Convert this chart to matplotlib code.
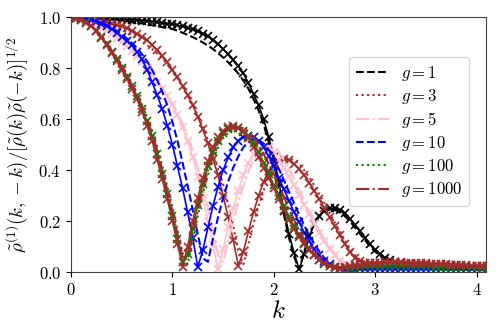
import numpy as np
import matplotlib
matplotlib.use('Agg')
import matplotlib.pyplot as plt

plt.rcParams['font.family'] = 'serif'
plt.rcParams['font.serif'] = ['cmr10']
plt.rcParams['mathtext.fontset'] = 'cm'
plt.rcParams['axes.formatter.use_mathtext'] = True

# k grid shared by all curves (step 0.05)
k = np.linspace(0.0, 4.1, 83)

g_labels = ['$g=1$', '$g=3$', '$g=5$', '$g=10$', '$g=100$', '$g=1000$']
colors = ['black', 'brown', 'pink', 'blue', 'green', 'brown']
styles = ['--', ':', '-.', '--', ':', '-.']

# ---- data points (x markers) ----
pts_g1 = [1.0, 1.0, 1.0, 1.0, 0.999, 0.998, 0.997, 0.996, 0.995, 0.994,
          0.993, 0.992, 0.991, 0.990, 0.988, 0.986, 0.984, 0.981, 0.978, 0.976,
          0.974, 0.970, 0.965, 0.960, 0.953, 0.946, 0.937, 0.926, 0.912, 0.895,
          0.876, 0.856, 0.834, 0.810, 0.780, 0.742, 0.700, 0.655, 0.600, 0.530,
          0.450, 0.350, 0.240, 0.150, 0.075, 0.010, 0.070, 0.140, 0.190, 0.220,
          0.240, 0.250, 0.252, 0.245, 0.230, 0.210, 0.185, 0.160, 0.135, 0.110,
          0.088, 0.070, 0.056, 0.046, 0.040, 0.035, 0.032, 0.030, 0.028, 0.027,
          0.026, 0.025, 0.024, 0.023, 0.023, 0.022, 0.022, 0.021, 0.021, 0.020,
          0.020, 0.020, 0.019]
pts_g3 = [1.0, 0.999, 0.998, 0.996, 0.993, 0.990, 0.986, 0.981, 0.976, 0.971,
          0.965, 0.957, 0.948, 0.937, 0.925, 0.910, 0.893, 0.873, 0.850, 0.825,
          0.795, 0.765, 0.730, 0.695, 0.655, 0.610, 0.560, 0.505, 0.445, 0.380,
          0.300, 0.215, 0.125, 0.025, 0.080, 0.160, 0.235, 0.300, 0.355, 0.395,
          0.425, 0.440, 0.445, 0.440, 0.425, 0.405, 0.380, 0.350, 0.320, 0.285,
          0.250, 0.215, 0.180, 0.145, 0.110, 0.080, 0.055, 0.042, 0.037, 0.035,
          0.035, 0.035, 0.035, 0.034, 0.034, 0.033, 0.033, 0.032, 0.031, 0.031,
          0.030, 0.029, 0.029, 0.028, 0.027, 0.027, 0.026, 0.025, 0.025, 0.024,
          0.024, 0.023, 0.023]
pts_g5 = [1.0, 0.999, 0.996, 0.991, 0.984, 0.975, 0.964, 0.951, 0.936, 0.919,
          0.905, 0.888, 0.868, 0.847, 0.824, 0.800, 0.775, 0.748, 0.720, 0.690,
          0.655, 0.615, 0.570, 0.515, 0.450, 0.375, 0.290, 0.200, 0.105, 0.010,
          0.090, 0.175, 0.250, 0.320, 0.380, 0.430, 0.465, 0.485, 0.495, 0.490,
          0.470, 0.440, 0.410, 0.375, 0.340, 0.302, 0.265, 0.228, 0.190, 0.155,
          0.120, 0.090, 0.065, 0.045, 0.032, 0.025, 0.023, 0.023, 0.024, 0.025,
          0.027, 0.027, 0.027, 0.027, 0.026, 0.026, 0.026, 0.025, 0.025, 0.024,
          0.024, 0.023, 0.023, 0.022, 0.022, 0.021, 0.021, 0.020, 0.020, 0.020,
          0.019, 0.019, 0.019]
pts_g10 = [1.0, 0.999, 0.997, 0.994, 0.990, 0.984, 0.976, 0.966, 0.954, 0.940,
           0.925, 0.908, 0.890, 0.866, 0.835, 0.795, 0.745, 0.695, 0.640, 0.575,
           0.500, 0.415, 0.330, 0.235, 0.135, 0.020, 0.085, 0.175, 0.260, 0.335,
           0.400, 0.450, 0.490, 0.515, 0.530, 0.535, 0.530, 0.515, 0.490, 0.455,
           0.415, 0.370, 0.325, 0.280, 0.235, 0.195, 0.155, 0.120, 0.090, 0.065,
           0.045, 0.030, 0.020, 0.012, 0.008, 0.007, 0.008, 0.010, 0.011, 0.012,
           0.013, 0.013, 0.013, 0.013, 0.013, 0.013, 0.013, 0.013, 0.012, 0.012,
           0.012, 0.012, 0.012, 0.012, 0.011, 0.011, 0.011, 0.011, 0.011, 0.011,
           0.011, 0.010, 0.010]
pts_g100 = [1.0, 0.998, 0.991, 0.981, 0.967, 0.948, 0.924, 0.896, 0.866, 0.836,
            0.802, 0.768, 0.730, 0.690, 0.642, 0.592, 0.535, 0.462, 0.385, 0.305,
            0.220, 0.130, 0.040, 0.070, 0.170, 0.265, 0.345, 0.415, 0.470, 0.515,
            0.545, 0.560, 0.567, 0.565, 0.555, 0.535, 0.505, 0.470, 0.430, 0.385,
            0.340, 0.300, 0.258, 0.218, 0.180, 0.147, 0.115, 0.088, 0.065, 0.046,
            0.032, 0.022, 0.016, 0.014, 0.015, 0.017, 0.019, 0.021, 0.022, 0.023,
            0.024, 0.025, 0.025, 0.025, 0.025, 0.025, 0.024, 0.024, 0.023, 0.023,
            0.022, 0.022, 0.021, 0.021, 0.020, 0.020, 0.019, 0.019, 0.018, 0.018,
            0.018, 0.017, 0.017]
pts_g1000 = [1.0, 0.998, 0.990, 0.980, 0.965, 0.945, 0.920, 0.890, 0.860, 0.830,
             0.795, 0.760, 0.720, 0.680, 0.630, 0.575, 0.515, 0.440, 0.365, 0.285,
             0.200, 0.110, 0.020, 0.100, 0.200, 0.290, 0.370, 0.435, 0.490, 0.530,
             0.555, 0.568, 0.572, 0.565, 0.550, 0.525, 0.490, 0.450, 0.410, 0.370,
             0.330, 0.285, 0.245, 0.205, 0.170, 0.138, 0.110, 0.085, 0.065, 0.048,
             0.034, 0.024, 0.018, 0.017, 0.019, 0.022, 0.026, 0.029, 0.032, 0.034,
             0.036, 0.037, 0.038, 0.038, 0.038, 0.038, 0.037, 0.037, 0.036, 0.035,
             0.034, 0.033, 0.032, 0.031, 0.030, 0.029, 0.028, 0.027, 0.026, 0.025,
             0.024, 0.023, 0.022]

# ---- theory curves (lines) ----
line_g1 = [1.0, 1.0, 0.999, 0.999, 0.998, 0.997, 0.996, 0.994, 0.992, 0.990,
           0.988, 0.986, 0.983, 0.980, 0.977, 0.973, 0.969, 0.966, 0.962, 0.958,
           0.955, 0.948, 0.940, 0.932, 0.923, 0.913, 0.902, 0.890, 0.876, 0.860,
           0.843, 0.824, 0.803, 0.780, 0.752, 0.720, 0.680, 0.635, 0.580, 0.510,
           0.430, 0.330, 0.225, 0.135, 0.060, 0.010, 0.080, 0.145, 0.190, 0.220,
           0.238, 0.245, 0.244, 0.235, 0.220, 0.200, 0.175, 0.150, 0.125, 0.100,
           0.080, 0.063, 0.050, 0.040, 0.034, 0.030, 0.027, 0.025, 0.024, 0.023,
           0.022, 0.021, 0.020, 0.020, 0.019, 0.019, 0.018, 0.018, 0.017, 0.017,
           0.017, 0.016, 0.016]
line_g3 = [1.0, 0.999, 0.998, 0.995, 0.991, 0.987, 0.982, 0.976, 0.969, 0.961,
           0.952, 0.942, 0.931, 0.919, 0.906, 0.892, 0.876, 0.858, 0.838, 0.816,
           0.790, 0.762, 0.730, 0.695, 0.657, 0.615, 0.570, 0.520, 0.465, 0.405,
           0.345, 0.265, 0.180, 0.080, 0.030, 0.110, 0.190, 0.260, 0.320, 0.370,
           0.400, 0.425, 0.440, 0.445, 0.440, 0.425, 0.400, 0.372, 0.340, 0.305,
           0.270, 0.233, 0.196, 0.160, 0.125, 0.093, 0.066, 0.048, 0.040, 0.036,
           0.035, 0.035, 0.035, 0.034, 0.034, 0.033, 0.033, 0.032, 0.031, 0.031,
           0.030, 0.029, 0.029, 0.028, 0.027, 0.027, 0.026, 0.025, 0.025, 0.024,
           0.024, 0.023, 0.023]
line_g5 = [1.0, 0.999, 0.997, 0.993, 0.987, 0.979, 0.969, 0.957, 0.943, 0.927,
           0.910, 0.891, 0.871, 0.850, 0.828, 0.805, 0.780, 0.754, 0.726, 0.696,
           0.663, 0.625, 0.582, 0.533, 0.477, 0.410, 0.335, 0.250, 0.160, 0.065,
           0.040, 0.120, 0.200, 0.275, 0.340, 0.395, 0.440, 0.470, 0.488, 0.495,
           0.490, 0.472, 0.440, 0.405, 0.365, 0.322, 0.280, 0.238, 0.200, 0.163,
           0.130, 0.100, 0.074, 0.053, 0.038, 0.028, 0.023, 0.022, 0.023, 0.025,
           0.027, 0.027, 0.027, 0.027, 0.026, 0.026, 0.026, 0.025, 0.025, 0.024,
           0.024, 0.023, 0.023, 0.022, 0.022, 0.021, 0.021, 0.020, 0.020, 0.020,
           0.019, 0.019, 0.019]
line_g10 = [1.0, 0.999, 0.998, 0.995, 0.991, 0.986, 0.979, 0.970, 0.960, 0.948,
            0.934, 0.918, 0.900, 0.880, 0.856, 0.828, 0.794, 0.754, 0.708, 0.655,
            0.590, 0.515, 0.430, 0.340, 0.245, 0.150, 0.055, 0.040, 0.130, 0.215,
            0.290, 0.355, 0.410, 0.455, 0.490, 0.510, 0.520, 0.518, 0.505, 0.480,
            0.445, 0.405, 0.360, 0.315, 0.270, 0.225, 0.183, 0.145, 0.110, 0.080,
            0.055, 0.036, 0.022, 0.013, 0.008, 0.006, 0.007, 0.008, 0.010, 0.011,
            0.013, 0.013, 0.013, 0.013, 0.013, 0.013, 0.013, 0.013, 0.012, 0.012,
            0.012, 0.012, 0.012, 0.012, 0.011, 0.011, 0.011, 0.011, 0.011, 0.011,
            0.011, 0.010, 0.010]
line_g100 = [1.0, 0.998, 0.992, 0.983, 0.970, 0.952, 0.930, 0.904, 0.875, 0.845,
             0.812, 0.778, 0.742, 0.703, 0.658, 0.610, 0.555, 0.490, 0.415, 0.335,
             0.255, 0.165, 0.075, 0.030, 0.120, 0.220, 0.305, 0.380, 0.440, 0.490,
             0.525, 0.548, 0.560, 0.565, 0.560, 0.548, 0.525, 0.495, 0.460, 0.420,
             0.380, 0.335, 0.290, 0.245, 0.200, 0.160, 0.125, 0.095, 0.070, 0.050,
             0.035, 0.024, 0.017, 0.014, 0.014, 0.016, 0.018, 0.020, 0.021, 0.022,
             0.024, 0.025, 0.025, 0.025, 0.025, 0.025, 0.024, 0.024, 0.023, 0.023,
             0.022, 0.022, 0.021, 0.021, 0.020, 0.020, 0.019, 0.019, 0.018, 0.018,
             0.018, 0.017, 0.017]
line_g1000 = [1.0, 0.998, 0.991, 0.982, 0.968, 0.950, 0.927, 0.900, 0.871, 0.841,
              0.808, 0.773, 0.736, 0.697, 0.650, 0.600, 0.545, 0.478, 0.402, 0.322,
              0.240, 0.150, 0.060, 0.050, 0.145, 0.240, 0.325, 0.400, 0.460, 0.505,
              0.538, 0.558, 0.568, 0.570, 0.565, 0.552, 0.530, 0.500, 0.465, 0.425,
              0.385, 0.340, 0.295, 0.250, 0.205, 0.165, 0.128, 0.097, 0.072, 0.052,
              0.037, 0.027, 0.021, 0.019, 0.020, 0.022, 0.025, 0.028, 0.031, 0.033,
              0.036, 0.037, 0.038, 0.038, 0.038, 0.038, 0.037, 0.037, 0.036, 0.035,
              0.034, 0.033, 0.032, 0.031, 0.030, 0.029, 0.028, 0.027, 0.026, 0.025,
              0.024, 0.023, 0.022]

points = [pts_g1, pts_g3, pts_g5, pts_g10, pts_g100, pts_g1000]
lines = [line_g1, line_g3, line_g5, line_g10, line_g100, line_g1000]

fig = plt.figure(figsize=(4.98, 3.32), dpi=100)
ax = fig.add_axes([0.1426, 0.1807, 0.8327, 0.7666])

for lab, c, ls, p, l in zip(g_labels, colors, styles, points, lines):
    ax.plot(k, p, color=c, marker='x', ms=6, mew=1.2, ls='-', lw=1.2)
    ax.plot(k, l, color=c, ls=ls, lw=1.5, label=lab)

ax.set_xlim(0, 4.09)
ax.set_ylim(0, 1.0)
ax.set_xticks([0, 1, 2, 3, 4])
ax.set_yticks([0.0, 0.2, 0.4, 0.6, 0.8, 1.0])
ax.tick_params(labelsize=12)
for sp in ax.spines.values():
    sp.set_color('#444444')
ax.set_xlabel('$k$', fontsize=18, labelpad=2)
ax.set_ylabel(r'$\tilde{\rho}^{(1)}(k,-k)/[\tilde{\rho}(k)\tilde{\rho}(-k)]^{1/2}$',
              fontsize=13.5, labelpad=6)

leg = ax.legend(loc='upper right', bbox_to_anchor=(0.96, 0.845), borderaxespad=0,
                fontsize=12, handlelength=2.0, handletextpad=0.7,
                labelspacing=0.25)

fig.savefig('out.png', dpi=100)
